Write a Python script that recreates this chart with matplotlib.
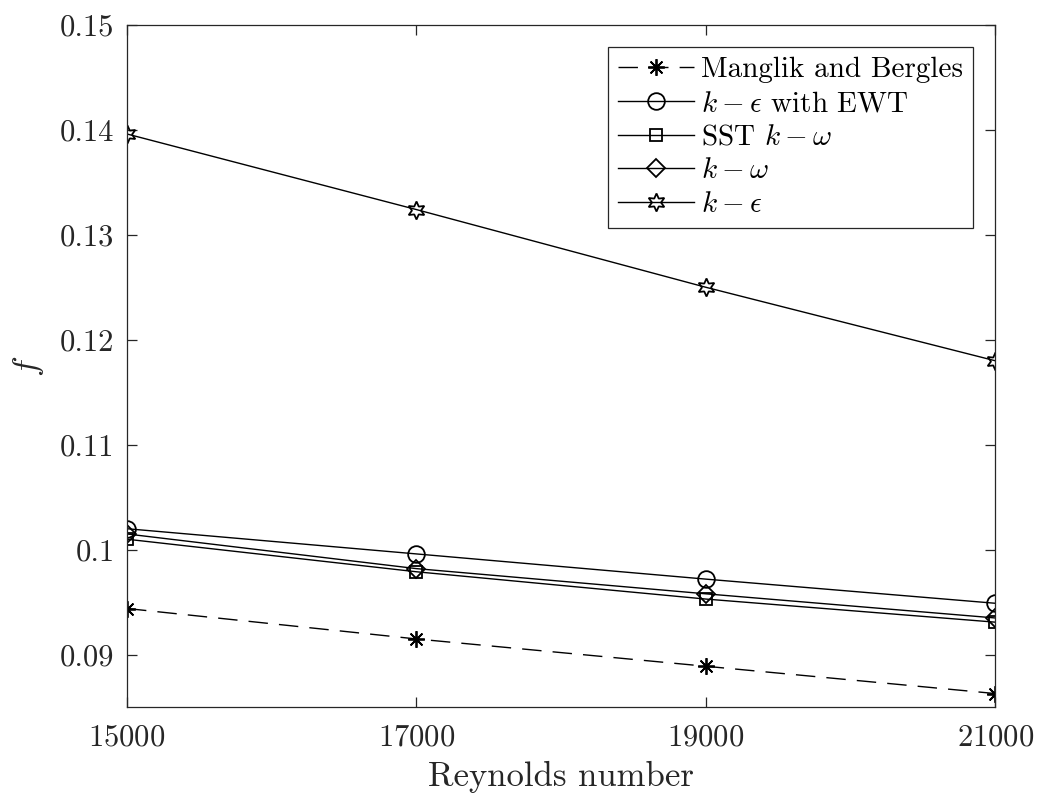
import matplotlib
matplotlib.use("Agg")
from matplotlib import pyplot as plt
from matplotlib.ticker import FormatStrFormatter

plt.rcParams['font.family'] = 'serif'
plt.rcParams['font.serif'] = ['cmr10']
plt.rcParams['mathtext.fontset'] = 'cm'
plt.rcParams['axes.formatter.use_mathtext'] = True

reynolds = [15000, 17000, 19000, 21000]
manglik = [0.0944, 0.0915, 0.0889, 0.0863]
ke_ewt = [0.1020, 0.0996, 0.0972, 0.0949]
sst_kw = [0.1010, 0.0979, 0.0953, 0.0931]
kw = [0.1015, 0.0982, 0.0958, 0.0935]
ke = [0.1396, 0.1324, 0.1250, 0.1180]

fig = plt.figure(figsize=(10.41, 8), dpi=100)
ax = fig.add_axes([0.122, 0.116, 0.834, 0.853])

ms = 12
ax.plot(reynolds, manglik, color='k', linestyle=(0, (14, 8)), lw=1, marker=(8, 2, 0),
        ms=ms, mew=1.3, label='Manglik and Bergles')
ax.plot(reynolds, ke_ewt, color='k', lw=1, marker='o', ms=ms, mfc='none', mew=1.3,
        label=r'$k-\epsilon$ with EWT')
ax.plot(reynolds, sst_kw, color='k', lw=1, marker='s', ms=9, mfc='none', mew=1.3,
        label=r'SST $k-\omega$')
ax.plot(reynolds, kw, color='k', lw=1, marker='D', ms=9, mfc='none', mew=1.3,
        label=r'$k-\omega$')
ax.plot(reynolds, ke, color='k', lw=1, marker=(6, 1, 0), ms=13, mfc='none', mew=1.3,
        label=r'$k-\epsilon$')

ax.set_xlim(15000, 21000)
ax.set_ylim(0.085, 0.15)
ax.set_xticks(reynolds)
ax.set_yticks([0.09, 0.10, 0.11, 0.12, 0.13, 0.14, 0.15])
ax.yaxis.set_major_formatter(FormatStrFormatter('%g'))

for s in ax.spines.values():
    s.set_color('#262626')
    s.set_linewidth(0.9)
ax.tick_params(direction='in', top=True, right=True, length=7, width=0.9,
               color='#262626', labelsize=22, labelcolor='#262626')
ax.tick_params(axis='x', pad=12)
ax.tick_params(axis='y', pad=9)

ax.set_xlabel('Reynolds number', fontsize=25, color='#262626', labelpad=7)
ax.set_ylabel(r'$f$', fontsize=25, color='#262626', labelpad=10)

leg = ax.legend(loc='upper right', fontsize=21, frameon=True, fancybox=False,
                framealpha=1, edgecolor='#262626', handlelength=2.6,
                handletextpad=0.25, borderpad=0.35, labelspacing=0.25,
                borderaxespad=0.75)
leg.get_frame().set_linewidth(0.9)

fig.savefig('out.png', dpi=100)
